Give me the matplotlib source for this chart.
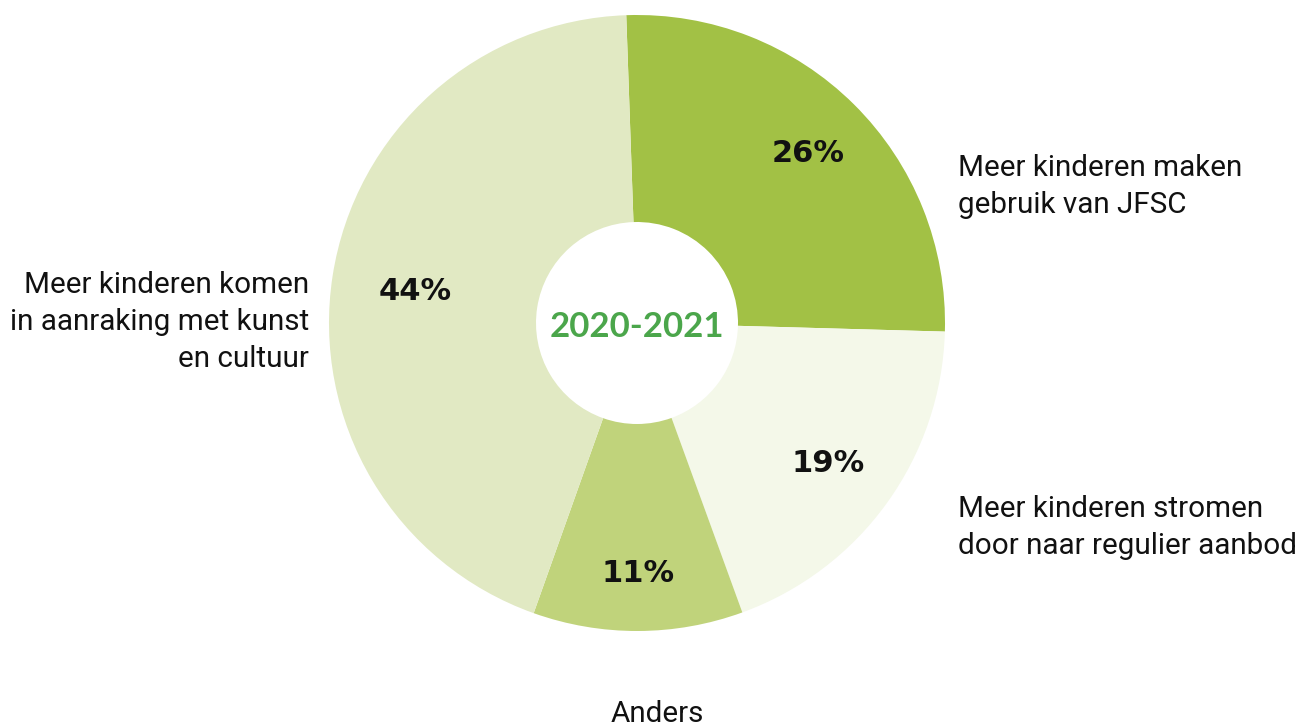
import numpy as np
import matplotlib.pyplot as plt

labels = ['Meer kinderen maken\ngebruik van JFSC',
          'Meer kinderen stromen\ndoor naar regulier aanbod',
          'Anders',
          'Meer kinderen komen\nin aanraking met kunst\nen cultuur']
shares = [26, 19, 11, 44]
colors = ['#a2c145', '#f4f8e9', '#c0d37b', '#e1e9c3']
center_label = '2020-2021'

fig = plt.figure(figsize=(13.02, 7.26), dpi=100)
ax = fig.add_axes([0, 0, 1, 1])
ax.set_aspect('equal')
ax.axis('off')

cx, cy, r = 637, 403, 308
start = 92

wedges, _ = ax.pie(
    shares, colors=colors, startangle=start, counterclock=False,
    center=(cx, cy), radius=r,
    wedgeprops=dict(width=207, linewidth=0))
ax.set_xlim(0, 1302)
ax.set_ylim(0, 726)

# percentage labels, each at its own distance from the centre
pct_dist = [0.79, 0.765, 0.805, 0.73]
for w, s, d in zip(wedges, shares, pct_dist):
    ang = np.deg2rad((w.theta1 + w.theta2) / 2)
    ax.text(cx + d * r * np.cos(ang), cy + d * r * np.sin(ang) - 3, f'{s}%',
            ha='center', va='center', fontsize=22, fontweight='bold',
            family='DejaVu Sans', color='#111111')

ax.text(cx, cy - 4, center_label, ha='center', va='center', fontsize=25,
        fontweight='bold', family='Lato', color='#4ba64b')

lab_kw = dict(fontsize=21.3, family='Roboto', color='#111111', linespacing=1.42)
ax.text(958, 726 - 154, labels[0], ha='left', va='top', **lab_kw)
ax.text(958, 726 - 495, labels[1], ha='left', va='top', **lab_kw)
ax.text(657, 726 - 700, labels[2], ha='center', va='top', **lab_kw)
ax.text(309, 726 - 271, labels[3], ha='right', va='top', multialignment='right', **lab_kw)

fig.savefig('out.png', dpi=100, facecolor='white')
